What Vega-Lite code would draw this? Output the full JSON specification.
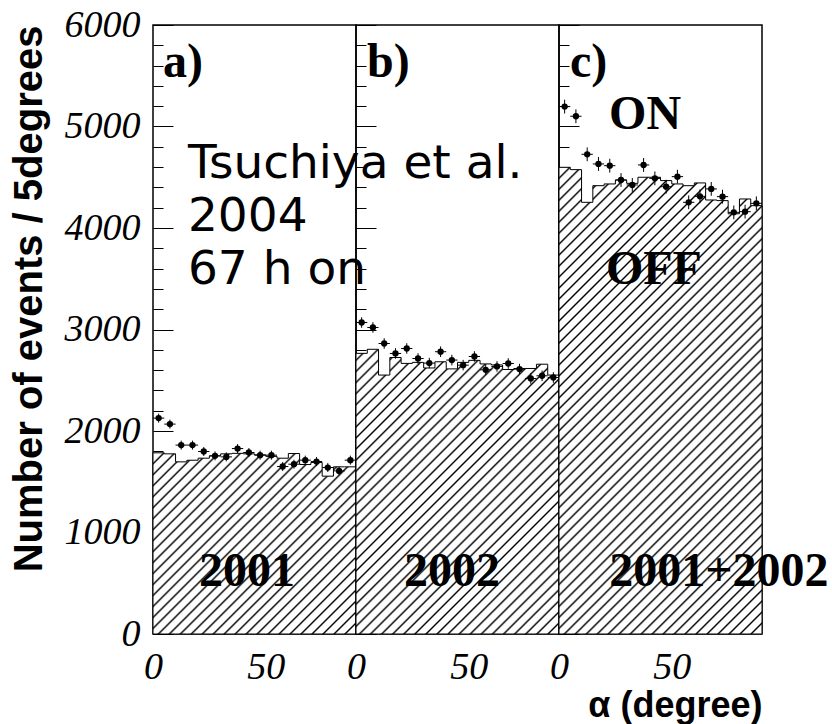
{
"$schema": "https://vega.github.io/schema/vega-lite/v6.json",
"autosize": {"type": "pad"},
"padding": {"left": 8, "top": 5, "right": 2, "bottom": 2},
"background": "white",
"bounds": "flush",
"spacing": 0,
"config": {"view": {"stroke": "black", "strokeWidth": 1.5}, "font": "Liberation Sans", "axis": {"labelOverlap": false}},
"data": {"values": [
{"panel":"a","lo":0,"hi":5,"alpha":2.5,"off":1785,"on":2127,"err":44},
{"panel":"a","lo":5,"hi":10,"alpha":7.5,"off":1775,"on":2068,"err":44},
{"panel":"a","lo":10,"hi":15,"alpha":12.5,"off":1696,"on":1861,"err":44},
{"panel":"a","lo":15,"hi":20,"alpha":17.5,"off":1712,"on":1861,"err":44},
{"panel":"a","lo":20,"hi":25,"alpha":22.5,"off":1732,"on":1798,"err":44},
{"panel":"a","lo":25,"hi":30,"alpha":27.5,"off":1755,"on":1755,"err":44},
{"panel":"a","lo":30,"hi":35,"alpha":32.5,"off":1775,"on":1745,"err":44},
{"panel":"a","lo":35,"hi":40,"alpha":37.5,"off":1780,"on":1827,"err":44},
{"panel":"a","lo":40,"hi":45,"alpha":42.5,"off":1775,"on":1788,"err":44},
{"panel":"a","lo":45,"hi":50,"alpha":47.5,"off":1765,"on":1762,"err":44},
{"panel":"a","lo":50,"hi":55,"alpha":52.5,"off":1750,"on":1762,"err":44},
{"panel":"a","lo":55,"hi":60,"alpha":57.5,"off":1732,"on":1650,"err":44},
{"panel":"a","lo":60,"hi":65,"alpha":62.5,"off":1778,"on":1673,"err":44},
{"panel":"a","lo":65,"hi":70,"alpha":67.5,"off":1670,"on":1713,"err":44},
{"panel":"a","lo":70,"hi":75,"alpha":72.5,"off":1690,"on":1699,"err":44},
{"panel":"a","lo":75,"hi":80,"alpha":77.5,"off":1555,"on":1640,"err":44},
{"panel":"a","lo":80,"hi":85,"alpha":82.5,"off":1647,"on":1607,"err":44},
{"panel":"a","lo":85,"hi":90,"alpha":87.5,"off":1647,"on":1713,"err":44},
{"panel":"b","lo":0,"hi":5,"alpha":2.5,"off":2765,"on":3069,"err":52},
{"panel":"b","lo":5,"hi":10,"alpha":7.5,"off":2805,"on":3020,"err":52},
{"panel":"b","lo":10,"hi":15,"alpha":12.5,"off":2551,"on":2862,"err":52},
{"panel":"b","lo":15,"hi":20,"alpha":17.5,"off":2724,"on":2764,"err":52},
{"panel":"b","lo":20,"hi":25,"alpha":22.5,"off":2666,"on":2813,"err":52},
{"panel":"b","lo":25,"hi":30,"alpha":27.5,"off":2676,"on":2714,"err":52},
{"panel":"b","lo":30,"hi":35,"alpha":32.5,"off":2621,"on":2669,"err":52},
{"panel":"b","lo":35,"hi":40,"alpha":37.5,"off":2682,"on":2781,"err":52},
{"panel":"b","lo":40,"hi":45,"alpha":42.5,"off":2612,"on":2699,"err":52},
{"panel":"b","lo":45,"hi":50,"alpha":47.5,"off":2676,"on":2649,"err":52},
{"panel":"b","lo":50,"hi":55,"alpha":52.5,"off":2696,"on":2734,"err":52},
{"panel":"b","lo":55,"hi":60,"alpha":57.5,"off":2661,"on":2603,"err":52},
{"panel":"b","lo":60,"hi":65,"alpha":62.5,"off":2651,"on":2636,"err":52},
{"panel":"b","lo":65,"hi":70,"alpha":67.5,"off":2606,"on":2665,"err":52},
{"panel":"b","lo":70,"hi":75,"alpha":72.5,"off":2616,"on":2610,"err":52},
{"panel":"b","lo":75,"hi":80,"alpha":77.5,"off":2616,"on":2517,"err":52},
{"panel":"b","lo":80,"hi":85,"alpha":82.5,"off":2658,"on":2544,"err":52},
{"panel":"b","lo":85,"hi":90,"alpha":87.5,"off":2551,"on":2527,"err":52},
{"panel":"c","lo":0,"hi":5,"alpha":2.5,"off":4598,"on":5196,"err":68},
{"panel":"c","lo":5,"hi":10,"alpha":7.5,"off":4575,"on":5101,"err":68},
{"panel":"c","lo":10,"hi":15,"alpha":12.5,"off":4253,"on":4726,"err":68},
{"panel":"c","lo":15,"hi":20,"alpha":17.5,"off":4417,"on":4631,"err":68},
{"panel":"c","lo":20,"hi":25,"alpha":22.5,"off":4434,"on":4614,"err":68},
{"panel":"c","lo":25,"hi":30,"alpha":27.5,"off":4473,"on":4473,"err":68},
{"panel":"c","lo":30,"hi":35,"alpha":32.5,"off":4440,"on":4424,"err":68},
{"panel":"c","lo":35,"hi":40,"alpha":37.5,"off":4500,"on":4621,"err":68},
{"panel":"c","lo":40,"hi":45,"alpha":42.5,"off":4500,"on":4489,"err":68},
{"panel":"c","lo":45,"hi":50,"alpha":47.5,"off":4467,"on":4407,"err":68},
{"panel":"c","lo":50,"hi":55,"alpha":52.5,"off":4434,"on":4506,"err":68},
{"panel":"c","lo":55,"hi":60,"alpha":57.5,"off":4417,"on":4253,"err":68},
{"panel":"c","lo":60,"hi":65,"alpha":62.5,"off":4444,"on":4312,"err":68},
{"panel":"c","lo":65,"hi":70,"alpha":67.5,"off":4276,"on":4385,"err":68},
{"panel":"c","lo":70,"hi":75,"alpha":72.5,"off":4270,"on":4309,"err":68},
{"panel":"c","lo":75,"hi":80,"alpha":77.5,"off":4140,"on":4154,"err":68},
{"panel":"c","lo":80,"hi":85,"alpha":82.5,"off":4286,"on":4161,"err":68},
{"panel":"c","lo":85,"hi":90,"alpha":87.5,"off":4220,"on":4243,"err":68}
]},
"hconcat": [
{
"width": 203, "height": 609,
"layer": [
{"transform": [{"filter": "datum.panel === 'a'"}, {"fold": ["lo", "hi"], "as": ["side", "edge"]}],
"mark": {"type": "area", "stroke": "black", "strokeWidth": 1, "opacity": 1, "fillOpacity": 1,
"fill": {"gradient": "linear", "x1": 0, "y1": 0, "x2": 1.0534, "y2": 0.9402, "stops": [
{"offset":0.0234,"color":"#fff"},{"offset":0.0286,"color":"#000"},{"offset":0.0338,"color":"#fff"},
{"offset":0.0519,"color":"#fff"},{"offset":0.0571,"color":"#000"},{"offset":0.0623,"color":"#fff"},
{"offset":0.0805,"color":"#fff"},{"offset":0.0857,"color":"#000"},{"offset":0.0909,"color":"#fff"},
{"offset":0.1091,"color":"#fff"},{"offset":0.1143,"color":"#000"},{"offset":0.1195,"color":"#fff"},
{"offset":0.1377,"color":"#fff"},{"offset":0.1429,"color":"#000"},{"offset":0.1481,"color":"#fff"},
{"offset":0.1662,"color":"#fff"},{"offset":0.1714,"color":"#000"},{"offset":0.1766,"color":"#fff"},
{"offset":0.1948,"color":"#fff"},{"offset":0.2,"color":"#000"},{"offset":0.2052,"color":"#fff"},
{"offset":0.2234,"color":"#fff"},{"offset":0.2286,"color":"#000"},{"offset":0.2338,"color":"#fff"},
{"offset":0.2519,"color":"#fff"},{"offset":0.2571,"color":"#000"},{"offset":0.2623,"color":"#fff"},
{"offset":0.2805,"color":"#fff"},{"offset":0.2857,"color":"#000"},{"offset":0.2909,"color":"#fff"},
{"offset":0.3091,"color":"#fff"},{"offset":0.3143,"color":"#000"},{"offset":0.3195,"color":"#fff"},
{"offset":0.3377,"color":"#fff"},{"offset":0.3429,"color":"#000"},{"offset":0.3481,"color":"#fff"},
{"offset":0.3662,"color":"#fff"},{"offset":0.3714,"color":"#000"},{"offset":0.3766,"color":"#fff"},
{"offset":0.3948,"color":"#fff"},{"offset":0.4,"color":"#000"},{"offset":0.4052,"color":"#fff"},
{"offset":0.4234,"color":"#fff"},{"offset":0.4286,"color":"#000"},{"offset":0.4338,"color":"#fff"},
{"offset":0.4519,"color":"#fff"},{"offset":0.4571,"color":"#000"},{"offset":0.4623,"color":"#fff"},
{"offset":0.4805,"color":"#fff"},{"offset":0.4857,"color":"#000"},{"offset":0.4909,"color":"#fff"},
{"offset":0.5091,"color":"#fff"},{"offset":0.5143,"color":"#000"},{"offset":0.5195,"color":"#fff"},
{"offset":0.5377,"color":"#fff"},{"offset":0.5429,"color":"#000"},{"offset":0.5481,"color":"#fff"},
{"offset":0.5662,"color":"#fff"},{"offset":0.5714,"color":"#000"},{"offset":0.5766,"color":"#fff"},
{"offset":0.5948,"color":"#fff"},{"offset":0.6,"color":"#000"},{"offset":0.6052,"color":"#fff"},
{"offset":0.6234,"color":"#fff"},{"offset":0.6286,"color":"#000"},{"offset":0.6338,"color":"#fff"},
{"offset":0.6519,"color":"#fff"},{"offset":0.6571,"color":"#000"},{"offset":0.6623,"color":"#fff"},
{"offset":0.6805,"color":"#fff"},{"offset":0.6857,"color":"#000"},{"offset":0.6909,"color":"#fff"},
{"offset":0.7091,"color":"#fff"},{"offset":0.7143,"color":"#000"},{"offset":0.7195,"color":"#fff"},
{"offset":0.7377,"color":"#fff"},{"offset":0.7429,"color":"#000"},{"offset":0.7481,"color":"#fff"},
{"offset":0.7662,"color":"#fff"},{"offset":0.7714,"color":"#000"},{"offset":0.7766,"color":"#fff"},
{"offset":0.7948,"color":"#fff"},{"offset":0.8,"color":"#000"},{"offset":0.8052,"color":"#fff"},
{"offset":0.8234,"color":"#fff"},{"offset":0.8286,"color":"#000"},{"offset":0.8338,"color":"#fff"},
{"offset":0.8519,"color":"#fff"},{"offset":0.8571,"color":"#000"},{"offset":0.8623,"color":"#fff"},
{"offset":0.8805,"color":"#fff"},{"offset":0.8857,"color":"#000"},{"offset":0.8909,"color":"#fff"},
{"offset":0.9091,"color":"#fff"},{"offset":0.9143,"color":"#000"},{"offset":0.9195,"color":"#fff"},
{"offset":0.9377,"color":"#fff"},{"offset":0.9429,"color":"#000"},{"offset":0.9481,"color":"#fff"},
{"offset":0.9662,"color":"#fff"},{"offset":0.9714,"color":"#000"},{"offset":0.9766,"color":"#fff"}
]}},
"encoding": {
"x": {"field": "edge", "type": "quantitative", "title": null, "scale": {"domain": [0, 90], "nice": false, "zero": false},
"axis": {"values": [0, 25, 50, 75], "format": "d", "labelExpr": "datum.value === 0 || datum.value === 50 ? datum.label : ''", "labelFontSize": {"condition": {"test": "datum.value === 25 || datum.value === 75", "value": 0}, "value": 38}, "tickSize": -12, "tickColor": "black", "tickWidth": 1, "labelPadding": 26, "labelFont": "Liberation Serif", "labelFontStyle": "italic", "labelColor": "black", "labelFlush": false, "labelOverlap": false, "labelBaseline": "top", "domain": false, "grid": false, "title": null}},
"y": {"field": "off", "type": "quantitative", "stack": null, "title": "Number of events / 5degrees", "scale": {"domain": [0, 6000], "nice": false},
"axis": {"values": [0,200,400,600,800,1000,1200,1400,1600,1800,2000,2200,2400,2600,2800,3000,3200,3400,3600,3800,4000,4200,4400,4600,4800,5000,5200,5400,5600,5800,6000], "tickCount": 40, "format": "d", "tickSize": {"condition": {"test": "datum.value % 1000 === 0", "value": -20}, "value": -10}, "labelExpr": "datum.value % 1000 === 0 ? datum.label : ''", "labelFontSize": {"condition": {"test": "datum.value % 1000 !== 0", "value": 0}, "value": 38}, "tickColor": "black", "tickWidth": 1, "labelPadding": 33, "labelFont": "Liberation Serif", "labelFontStyle": "italic", "labelColor": "black", "labelFlush": false, "labelOverlap": false, "labelBaseline": "middle", "domain": false, "grid": false, "title": "Number of events / 5degrees", "titleFont": "Liberation Sans", "titleFontWeight": "bold", "titleFontSize": 40, "titleColor": "black", "titleAnchor": "end", "titlePadding": 15}}
}},
{"transform": [{"filter": "datum.panel === 'a'"}],
"mark": {"type": "rule", "color": "black", "strokeWidth": 1},
"encoding": {"x": {"field": "lo", "type": "quantitative", "title": null, "scale": {"domain": [0, 90], "nice": false, "zero": false}}, "x2": {"field": "hi"}, "y": {"field": "on", "type": "quantitative", "title": "Number of events / 5degrees", "scale": {"domain": [0, 6000], "nice": false}}}},
{"transform": [{"filter": "datum.panel === 'a'"}],
"mark": {"type": "errorbar", "color": "black", "thickness": 1},
"encoding": {"x": {"field": "alpha", "type": "quantitative", "title": null, "scale": {"domain": [0, 90], "nice": false, "zero": false}}, "y": {"field": "on", "type": "quantitative", "title": "Number of events / 5degrees", "scale": {"domain": [0, 6000], "nice": false}}, "yError": {"field": "err"}}},
{"transform": [{"filter": "datum.panel === 'a'"}],
"mark": {"type": "circle", "color": "black", "size": 40, "opacity": 1},
"encoding": {"x": {"field": "alpha", "type": "quantitative", "title": null, "scale": {"domain": [0, 90], "nice": false, "zero": false}}, "y": {"field": "on", "type": "quantitative", "title": "Number of events / 5degrees", "scale": {"domain": [0, 6000], "nice": false}}}},
{"data": {"values": [{}]},
"mark": {"type": "text", "text": "a)", "font": "Liberation Serif", "fontWeight": "bold", "fontSize": 48, "align": "left", "baseline": "alphabetic", "color": "black"},
"encoding": {"x": {"datum": 4.4, "type": "quantitative"}, "y": {"datum": 5492, "type": "quantitative"}}},
{"data": {"values": [{}]},
"mark": {"type": "text", "text": "2001", "font": "Liberation Serif", "fontWeight": "bold", "fontSize": 48, "align": "center", "baseline": "alphabetic", "color": "black"},
"encoding": {"x": {"datum": 41.7, "type": "quantitative"}, "y": {"datum": 473, "type": "quantitative"}}},
{"data": {"values": [{}]},
"mark": {"type": "text", "text": ["Tsuchiya et al.", "2004", "67 h on"], "font": "DejaVu Sans", "fontSize": 47, "lineHeight": 53, "align": "left", "baseline": "alphabetic", "color": "black"},
"encoding": {"x": {"datum": 15.5, "type": "quantitative"}, "y": {"datum": 4496, "type": "quantitative"}}}
]
},
{
"width": 203, "height": 609,
"layer": [
{"transform": [{"filter": "datum.panel === 'b'"}, {"fold": ["lo", "hi"], "as": ["side", "edge"]}],
"mark": {"type": "area", "stroke": "black", "strokeWidth": 1, "opacity": 1, "fillOpacity": 1,
"fill": {"gradient": "linear", "x1": 0, "y1": 0, "x2": 0.8098, "y2": 1.1357, "stops": [
{"offset":0.0186,"color":"#fff"},{"offset":0.0227,"color":"#000"},{"offset":0.0268,"color":"#fff"},
{"offset":0.0414,"color":"#fff"},{"offset":0.0455,"color":"#000"},{"offset":0.0496,"color":"#fff"},
{"offset":0.0641,"color":"#fff"},{"offset":0.0682,"color":"#000"},{"offset":0.0723,"color":"#fff"},
{"offset":0.0868,"color":"#fff"},{"offset":0.0909,"color":"#000"},{"offset":0.0950,"color":"#fff"},
{"offset":0.1095,"color":"#fff"},{"offset":0.1136,"color":"#000"},{"offset":0.1177,"color":"#fff"},
{"offset":0.1323,"color":"#fff"},{"offset":0.1364,"color":"#000"},{"offset":0.1405,"color":"#fff"},
{"offset":0.1550,"color":"#fff"},{"offset":0.1591,"color":"#000"},{"offset":0.1632,"color":"#fff"},
{"offset":0.1777,"color":"#fff"},{"offset":0.1818,"color":"#000"},{"offset":0.1859,"color":"#fff"},
{"offset":0.2004,"color":"#fff"},{"offset":0.2045,"color":"#000"},{"offset":0.2086,"color":"#fff"},
{"offset":0.2232,"color":"#fff"},{"offset":0.2273,"color":"#000"},{"offset":0.2314,"color":"#fff"},
{"offset":0.2459,"color":"#fff"},{"offset":0.25,"color":"#000"},{"offset":0.2541,"color":"#fff"},
{"offset":0.2686,"color":"#fff"},{"offset":0.2727,"color":"#000"},{"offset":0.2768,"color":"#fff"},
{"offset":0.2914,"color":"#fff"},{"offset":0.2955,"color":"#000"},{"offset":0.2996,"color":"#fff"},
{"offset":0.3141,"color":"#fff"},{"offset":0.3182,"color":"#000"},{"offset":0.3223,"color":"#fff"},
{"offset":0.3368,"color":"#fff"},{"offset":0.3409,"color":"#000"},{"offset":0.3450,"color":"#fff"},
{"offset":0.3595,"color":"#fff"},{"offset":0.3636,"color":"#000"},{"offset":0.3677,"color":"#fff"},
{"offset":0.3823,"color":"#fff"},{"offset":0.3864,"color":"#000"},{"offset":0.3905,"color":"#fff"},
{"offset":0.4050,"color":"#fff"},{"offset":0.4091,"color":"#000"},{"offset":0.4132,"color":"#fff"},
{"offset":0.4277,"color":"#fff"},{"offset":0.4318,"color":"#000"},{"offset":0.4359,"color":"#fff"},
{"offset":0.4504,"color":"#fff"},{"offset":0.4545,"color":"#000"},{"offset":0.4586,"color":"#fff"},
{"offset":0.4732,"color":"#fff"},{"offset":0.4773,"color":"#000"},{"offset":0.4814,"color":"#fff"},
{"offset":0.4959,"color":"#fff"},{"offset":0.5,"color":"#000"},{"offset":0.5041,"color":"#fff"},
{"offset":0.5186,"color":"#fff"},{"offset":0.5227,"color":"#000"},{"offset":0.5268,"color":"#fff"},
{"offset":0.5414,"color":"#fff"},{"offset":0.5455,"color":"#000"},{"offset":0.5496,"color":"#fff"},
{"offset":0.5641,"color":"#fff"},{"offset":0.5682,"color":"#000"},{"offset":0.5723,"color":"#fff"},
{"offset":0.5868,"color":"#fff"},{"offset":0.5909,"color":"#000"},{"offset":0.5950,"color":"#fff"},
{"offset":0.6095,"color":"#fff"},{"offset":0.6136,"color":"#000"},{"offset":0.6177,"color":"#fff"},
{"offset":0.6323,"color":"#fff"},{"offset":0.6364,"color":"#000"},{"offset":0.6405,"color":"#fff"},
{"offset":0.6550,"color":"#fff"},{"offset":0.6591,"color":"#000"},{"offset":0.6632,"color":"#fff"},
{"offset":0.6777,"color":"#fff"},{"offset":0.6818,"color":"#000"},{"offset":0.6859,"color":"#fff"},
{"offset":0.7004,"color":"#fff"},{"offset":0.7045,"color":"#000"},{"offset":0.7086,"color":"#fff"},
{"offset":0.7232,"color":"#fff"},{"offset":0.7273,"color":"#000"},{"offset":0.7314,"color":"#fff"},
{"offset":0.7459,"color":"#fff"},{"offset":0.75,"color":"#000"},{"offset":0.7541,"color":"#fff"},
{"offset":0.7686,"color":"#fff"},{"offset":0.7727,"color":"#000"},{"offset":0.7768,"color":"#fff"},
{"offset":0.7914,"color":"#fff"},{"offset":0.7955,"color":"#000"},{"offset":0.7996,"color":"#fff"},
{"offset":0.8141,"color":"#fff"},{"offset":0.8182,"color":"#000"},{"offset":0.8223,"color":"#fff"},
{"offset":0.8368,"color":"#fff"},{"offset":0.8409,"color":"#000"},{"offset":0.8450,"color":"#fff"},
{"offset":0.8595,"color":"#fff"},{"offset":0.8636,"color":"#000"},{"offset":0.8677,"color":"#fff"},
{"offset":0.8823,"color":"#fff"},{"offset":0.8864,"color":"#000"},{"offset":0.8905,"color":"#fff"},
{"offset":0.9050,"color":"#fff"},{"offset":0.9091,"color":"#000"},{"offset":0.9132,"color":"#fff"},
{"offset":0.9277,"color":"#fff"},{"offset":0.9318,"color":"#000"},{"offset":0.9359,"color":"#fff"},
{"offset":0.9504,"color":"#fff"},{"offset":0.9545,"color":"#000"},{"offset":0.9586,"color":"#fff"},
{"offset":0.9732,"color":"#fff"},{"offset":0.9773,"color":"#000"},{"offset":0.9814,"color":"#fff"}
]}},
"encoding": {
"x": {"field": "edge", "type": "quantitative", "title": null, "scale": {"domain": [0, 90], "nice": false, "zero": false},
"axis": {"values": [0, 25, 50, 75], "format": "d", "labelExpr": "datum.value === 0 || datum.value === 50 ? datum.label : ''", "labelFontSize": {"condition": {"test": "datum.value === 25 || datum.value === 75", "value": 0}, "value": 38}, "tickSize": -12, "tickColor": "black", "tickWidth": 1, "labelPadding": 26, "labelFont": "Liberation Serif", "labelFontStyle": "italic", "labelColor": "black", "labelFlush": false, "labelOverlap": false, "labelBaseline": "top", "domain": false, "grid": false, "title": null}},
"y": {"field": "off", "type": "quantitative", "stack": null, "title": null, "scale": {"domain": [0, 6000], "nice": false},
"axis": {"values": [0,200,400,600,800,1000,1200,1400,1600,1800,2000,2200,2400,2600,2800,3000,3200,3400,3600,3800,4000,4200,4400,4600,4800,5000,5200,5400,5600,5800,6000], "tickCount": 40, "tickSize": {"condition": {"test": "datum.value % 1000 === 0", "value": -20}, "value": -10}, "labels": false, "tickColor": "black", "tickWidth": 1, "domain": false, "grid": false, "title": null}}
}},
{"transform": [{"filter": "datum.panel === 'b'"}],
"mark": {"type": "rule", "color": "black", "strokeWidth": 1},
"encoding": {"x": {"field": "lo", "type": "quantitative", "title": null, "scale": {"domain": [0, 90], "nice": false, "zero": false}}, "x2": {"field": "hi"}, "y": {"field": "on", "type": "quantitative", "title": null, "scale": {"domain": [0, 6000], "nice": false}}}},
{"transform": [{"filter": "datum.panel === 'b'"}],
"mark": {"type": "errorbar", "color": "black", "thickness": 1},
"encoding": {"x": {"field": "alpha", "type": "quantitative", "title": null, "scale": {"domain": [0, 90], "nice": false, "zero": false}}, "y": {"field": "on", "type": "quantitative", "title": null, "scale": {"domain": [0, 6000], "nice": false}}, "yError": {"field": "err"}}},
{"transform": [{"filter": "datum.panel === 'b'"}],
"mark": {"type": "circle", "color": "black", "size": 40, "opacity": 1},
"encoding": {"x": {"field": "alpha", "type": "quantitative", "title": null, "scale": {"domain": [0, 90], "nice": false, "zero": false}}, "y": {"field": "on", "type": "quantitative", "title": null, "scale": {"domain": [0, 6000], "nice": false}}}},
{"data": {"values": [{}]},
"mark": {"type": "text", "text": "b)", "font": "Liberation Serif", "fontWeight": "bold", "fontSize": 48, "align": "left", "baseline": "alphabetic", "color": "black"},
"encoding": {"x": {"datum": 4.9, "type": "quantitative"}, "y": {"datum": 5492, "type": "quantitative"}}},
{"data": {"values": [{}]},
"mark": {"type": "text", "text": "2002", "font": "Liberation Serif", "fontWeight": "bold", "fontSize": 48, "align": "center", "baseline": "alphabetic", "color": "black"},
"encoding": {"x": {"datum": 42.6, "type": "quantitative"}, "y": {"datum": 473, "type": "quantitative"}}}
]
},
{
"width": 203, "height": 609,
"layer": [
{"transform": [{"filter": "datum.panel === 'c'"}, {"fold": ["lo", "hi"], "as": ["side", "edge"]}],
"mark": {"type": "area", "stroke": "black", "strokeWidth": 1, "opacity": 1, "fillOpacity": 1,
"fill": {"gradient": "linear", "x1": 0, "y1": 0, "x2": 0.5249, "y2": 1.2067, "stops": [
{"offset":0.0134,"color":"#fff"},{"offset":0.0164,"color":"#000"},{"offset":0.0194,"color":"#fff"},
{"offset":0.0298,"color":"#fff"},{"offset":0.0328,"color":"#000"},{"offset":0.0358,"color":"#fff"},
{"offset":0.0462,"color":"#fff"},{"offset":0.0492,"color":"#000"},{"offset":0.0522,"color":"#fff"},
{"offset":0.0626,"color":"#fff"},{"offset":0.0656,"color":"#000"},{"offset":0.0686,"color":"#fff"},
{"offset":0.0790,"color":"#fff"},{"offset":0.0820,"color":"#000"},{"offset":0.0850,"color":"#fff"},
{"offset":0.0954,"color":"#fff"},{"offset":0.0984,"color":"#000"},{"offset":0.1014,"color":"#fff"},
{"offset":0.1118,"color":"#fff"},{"offset":0.1148,"color":"#000"},{"offset":0.1178,"color":"#fff"},
{"offset":0.1281,"color":"#fff"},{"offset":0.1311,"color":"#000"},{"offset":0.1341,"color":"#fff"},
{"offset":0.1445,"color":"#fff"},{"offset":0.1475,"color":"#000"},{"offset":0.1505,"color":"#fff"},
{"offset":0.1609,"color":"#fff"},{"offset":0.1639,"color":"#000"},{"offset":0.1669,"color":"#fff"},
{"offset":0.1773,"color":"#fff"},{"offset":0.1803,"color":"#000"},{"offset":0.1833,"color":"#fff"},
{"offset":0.1937,"color":"#fff"},{"offset":0.1967,"color":"#000"},{"offset":0.1997,"color":"#fff"},
{"offset":0.2101,"color":"#fff"},{"offset":0.2131,"color":"#000"},{"offset":0.2161,"color":"#fff"},
{"offset":0.2265,"color":"#fff"},{"offset":0.2295,"color":"#000"},{"offset":0.2325,"color":"#fff"},
{"offset":0.2429,"color":"#fff"},{"offset":0.2459,"color":"#000"},{"offset":0.2489,"color":"#fff"},
{"offset":0.2593,"color":"#fff"},{"offset":0.2623,"color":"#000"},{"offset":0.2653,"color":"#fff"},
{"offset":0.2757,"color":"#fff"},{"offset":0.2787,"color":"#000"},{"offset":0.2817,"color":"#fff"},
{"offset":0.2921,"color":"#fff"},{"offset":0.2951,"color":"#000"},{"offset":0.2981,"color":"#fff"},
{"offset":0.3085,"color":"#fff"},{"offset":0.3115,"color":"#000"},{"offset":0.3145,"color":"#fff"},
{"offset":0.3249,"color":"#fff"},{"offset":0.3279,"color":"#000"},{"offset":0.3309,"color":"#fff"},
{"offset":0.3413,"color":"#fff"},{"offset":0.3443,"color":"#000"},{"offset":0.3473,"color":"#fff"},
{"offset":0.3577,"color":"#fff"},{"offset":0.3607,"color":"#000"},{"offset":0.3637,"color":"#fff"},
{"offset":0.3740,"color":"#fff"},{"offset":0.3770,"color":"#000"},{"offset":0.3800,"color":"#fff"},
{"offset":0.3904,"color":"#fff"},{"offset":0.3934,"color":"#000"},{"offset":0.3964,"color":"#fff"},
{"offset":0.4068,"color":"#fff"},{"offset":0.4098,"color":"#000"},{"offset":0.4128,"color":"#fff"},
{"offset":0.4232,"color":"#fff"},{"offset":0.4262,"color":"#000"},{"offset":0.4292,"color":"#fff"},
{"offset":0.4396,"color":"#fff"},{"offset":0.4426,"color":"#000"},{"offset":0.4456,"color":"#fff"},
{"offset":0.4560,"color":"#fff"},{"offset":0.4590,"color":"#000"},{"offset":0.4620,"color":"#fff"},
{"offset":0.4724,"color":"#fff"},{"offset":0.4754,"color":"#000"},{"offset":0.4784,"color":"#fff"},
{"offset":0.4888,"color":"#fff"},{"offset":0.4918,"color":"#000"},{"offset":0.4948,"color":"#fff"},
{"offset":0.5052,"color":"#fff"},{"offset":0.5082,"color":"#000"},{"offset":0.5112,"color":"#fff"},
{"offset":0.5216,"color":"#fff"},{"offset":0.5246,"color":"#000"},{"offset":0.5276,"color":"#fff"},
{"offset":0.5380,"color":"#fff"},{"offset":0.5410,"color":"#000"},{"offset":0.5440,"color":"#fff"},
{"offset":0.5544,"color":"#fff"},{"offset":0.5574,"color":"#000"},{"offset":0.5604,"color":"#fff"},
{"offset":0.5708,"color":"#fff"},{"offset":0.5738,"color":"#000"},{"offset":0.5768,"color":"#fff"},
{"offset":0.5872,"color":"#fff"},{"offset":0.5902,"color":"#000"},{"offset":0.5932,"color":"#fff"},
{"offset":0.6036,"color":"#fff"},{"offset":0.6066,"color":"#000"},{"offset":0.6096,"color":"#fff"},
{"offset":0.6200,"color":"#fff"},{"offset":0.6230,"color":"#000"},{"offset":0.6260,"color":"#fff"},
{"offset":0.6363,"color":"#fff"},{"offset":0.6393,"color":"#000"},{"offset":0.6423,"color":"#fff"},
{"offset":0.6527,"color":"#fff"},{"offset":0.6557,"color":"#000"},{"offset":0.6587,"color":"#fff"},
{"offset":0.6691,"color":"#fff"},{"offset":0.6721,"color":"#000"},{"offset":0.6751,"color":"#fff"},
{"offset":0.6855,"color":"#fff"},{"offset":0.6885,"color":"#000"},{"offset":0.6915,"color":"#fff"},
{"offset":0.7019,"color":"#fff"},{"offset":0.7049,"color":"#000"},{"offset":0.7079,"color":"#fff"},
{"offset":0.7183,"color":"#fff"},{"offset":0.7213,"color":"#000"},{"offset":0.7243,"color":"#fff"},
{"offset":0.7347,"color":"#fff"},{"offset":0.7377,"color":"#000"},{"offset":0.7407,"color":"#fff"},
{"offset":0.7511,"color":"#fff"},{"offset":0.7541,"color":"#000"},{"offset":0.7571,"color":"#fff"},
{"offset":0.7675,"color":"#fff"},{"offset":0.7705,"color":"#000"},{"offset":0.7735,"color":"#fff"},
{"offset":0.7839,"color":"#fff"},{"offset":0.7869,"color":"#000"},{"offset":0.7899,"color":"#fff"},
{"offset":0.8003,"color":"#fff"},{"offset":0.8033,"color":"#000"},{"offset":0.8063,"color":"#fff"},
{"offset":0.8167,"color":"#fff"},{"offset":0.8197,"color":"#000"},{"offset":0.8227,"color":"#fff"},
{"offset":0.8331,"color":"#fff"},{"offset":0.8361,"color":"#000"},{"offset":0.8391,"color":"#fff"},
{"offset":0.8495,"color":"#fff"},{"offset":0.8525,"color":"#000"},{"offset":0.8555,"color":"#fff"},
{"offset":0.8659,"color":"#fff"},{"offset":0.8689,"color":"#000"},{"offset":0.8719,"color":"#fff"},
{"offset":0.8822,"color":"#fff"},{"offset":0.8852,"color":"#000"},{"offset":0.8882,"color":"#fff"},
{"offset":0.8986,"color":"#fff"},{"offset":0.9016,"color":"#000"},{"offset":0.9046,"color":"#fff"},
{"offset":0.9150,"color":"#fff"},{"offset":0.9180,"color":"#000"},{"offset":0.9210,"color":"#fff"},
{"offset":0.9314,"color":"#fff"},{"offset":0.9344,"color":"#000"},{"offset":0.9374,"color":"#fff"},
{"offset":0.9478,"color":"#fff"},{"offset":0.9508,"color":"#000"},{"offset":0.9538,"color":"#fff"},
{"offset":0.9642,"color":"#fff"},{"offset":0.9672,"color":"#000"},{"offset":0.9702,"color":"#fff"},
{"offset":0.9806,"color":"#fff"},{"offset":0.9836,"color":"#000"},{"offset":0.9866,"color":"#fff"}
]}},
"encoding": {
"x": {"field": "edge", "type": "quantitative", "title": "α (degree)", "scale": {"domain": [0, 90], "nice": false, "zero": false},
"axis": {"values": [0, 25, 50, 75], "format": "d", "labelExpr": "datum.value === 0 || datum.value === 50 ? datum.label : ''", "labelFontSize": {"condition": {"test": "datum.value === 25 || datum.value === 75", "value": 0}, "value": 38}, "tickSize": -12, "tickColor": "black", "tickWidth": 1, "labelPadding": 26, "labelFont": "Liberation Serif", "labelFontStyle": "italic", "labelColor": "black", "labelFlush": false, "labelOverlap": false, "labelBaseline": "top", "domain": false, "grid": false, "title": "α (degree)", "titleFont": "Liberation Sans", "titleFontWeight": "bold", "titleFontSize": 36, "titleColor": "black", "titleAnchor": "end", "titlePadding": 2}},
"y": {"field": "off", "type": "quantitative", "stack": null, "title": null, "scale": {"domain": [0, 6000], "nice": false},
"axis": {"values": [0,200,400,600,800,1000,1200,1400,1600,1800,2000,2200,2400,2600,2800,3000,3200,3400,3600,3800,4000,4200,4400,4600,4800,5000,5200,5400,5600,5800,6000], "tickCount": 40, "tickSize": {"condition": {"test": "datum.value % 1000 === 0", "value": -20}, "value": -10}, "labels": false, "tickColor": "black", "tickWidth": 1, "domain": false, "grid": false, "title": null}}
}},
{"transform": [{"filter": "datum.panel === 'c'"}],
"mark": {"type": "rule", "color": "black", "strokeWidth": 1},
"encoding": {"x": {"field": "lo", "type": "quantitative", "title": "α (degree)", "scale": {"domain": [0, 90], "nice": false, "zero": false}}, "x2": {"field": "hi"}, "y": {"field": "on", "type": "quantitative", "title": null, "scale": {"domain": [0, 6000], "nice": false}}}},
{"transform": [{"filter": "datum.panel === 'c'"}],
"mark": {"type": "errorbar", "color": "black", "thickness": 1},
"encoding": {"x": {"field": "alpha", "type": "quantitative", "title": "α (degree)", "scale": {"domain": [0, 90], "nice": false, "zero": false}}, "y": {"field": "on", "type": "quantitative", "title": null, "scale": {"domain": [0, 6000], "nice": false}}, "yError": {"field": "err"}}},
{"transform": [{"filter": "datum.panel === 'c'"}],
"mark": {"type": "circle", "color": "black", "size": 40, "opacity": 1},
"encoding": {"x": {"field": "alpha", "type": "quantitative", "title": "α (degree)", "scale": {"domain": [0, 90], "nice": false, "zero": false}}, "y": {"field": "on", "type": "quantitative", "title": null, "scale": {"domain": [0, 6000], "nice": false}}}},
{"data": {"values": [{}]},
"mark": {"type": "text", "text": "c)", "font": "Liberation Serif", "fontWeight": "bold", "fontSize": 48, "align": "left", "baseline": "alphabetic", "color": "black"},
"encoding": {"x": {"datum": 4.9, "type": "quantitative"}, "y": {"datum": 5492, "type": "quantitative"}}},
{"data": {"values": [{}]},
"mark": {"type": "text", "text": "ON", "font": "Liberation Serif", "fontWeight": "bold", "fontSize": 48, "align": "left", "baseline": "alphabetic", "color": "black"},
"encoding": {"x": {"datum": 22.2, "type": "quantitative"}, "y": {"datum": 4979, "type": "quantitative"}}},
{"data": {"values": [{}]},
"mark": {"type": "text", "text": "OFF", "font": "Liberation Serif", "fontWeight": "bold", "fontSize": 48, "align": "left", "baseline": "alphabetic", "color": "black"},
"encoding": {"x": {"datum": 20.8, "type": "quantitative"}, "y": {"datum": 3451, "type": "quantitative"}}},
{"data": {"values": [{}]},
"mark": {"type": "text", "text": "2001+2002", "font": "Liberation Serif", "fontWeight": "bold", "fontSize": 48, "align": "center", "baseline": "alphabetic", "color": "black"},
"encoding": {"x": {"datum": 70.9, "type": "quantitative"}, "y": {"datum": 473, "type": "quantitative"}}}
]
}
]
}
